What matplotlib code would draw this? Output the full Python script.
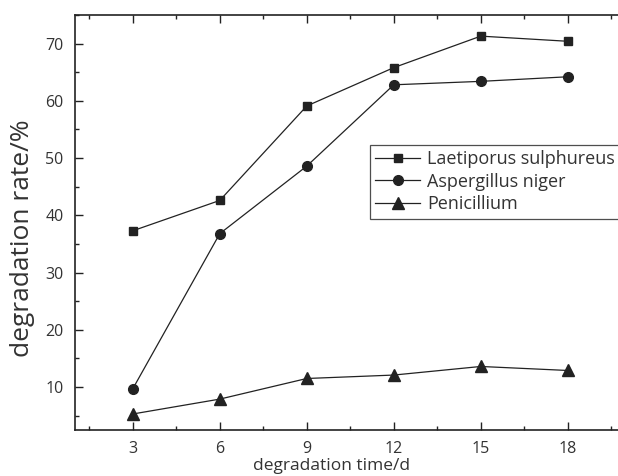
import matplotlib
matplotlib.use("Agg")
import matplotlib.pyplot as plt
from matplotlib.ticker import MultipleLocator

days = [3, 6, 9, 12, 15, 18]
laetiporus = [37.3, 42.6, 59.1, 65.8, 71.3, 70.4]
aspergillus = [9.7, 36.8, 48.6, 62.8, 63.4, 64.2]
penicillium = [5.3, 7.9, 11.5, 12.1, 13.6, 12.9]

plt.rcParams['font.family'] = ['Open Sans', 'DejaVu Sans']

fig = plt.figure(figsize=(6.18, 4.76), dpi=100)
ax = fig.add_axes([0.121, 0.0966, 0.8916, 0.872])

ax.plot(days, laetiporus, color='#222', lw=0.9, marker='s', ms=6, label='Laetiporus sulphureus')
ax.plot(days, aspergillus, color='#222', lw=0.9, marker='o', ms=7, label='Aspergillus niger')
ax.plot(days, penicillium, color='#222', lw=0.9, marker='^', ms=8.5, label='Penicillium')

ax.set_xlim(1, 20)
ax.set_ylim(2.5, 75)
ax.xaxis.set_minor_locator(MultipleLocator(1.5))
ax.yaxis.set_minor_locator(MultipleLocator(5))
ax.set_xticks(days)
ax.set_yticks([10, 20, 30, 40, 50, 60, 70])

ax.tick_params(which='both', direction='in', top=True, right=False, colors='#222',
               labelsize=11.5, labelcolor='#333', width=1)
ax.tick_params(which='major', length=6, pad=8)
ax.tick_params(which='minor', length=3)
ax.spines['right'].set_visible(False)
for s in ax.spines.values():
    s.set_linewidth(1.2)
    s.set_color('#222')

ax.set_xlabel('degradation time/d', fontsize=12.5, color='#333')
ax.xaxis.set_label_coords(0.466, -0.068)
ax.set_ylabel('degradation rate/%', fontsize=19, color='#333')
ax.yaxis.set_label_coords(-0.072, 0.462)

leg = ax.legend(loc='upper left', bbox_to_anchor=(0.535, 0.687), frameon=True, fancybox=False,
                edgecolor='#222', fontsize=13, handlelength=2.5, borderpad=0.3,
                labelspacing=0.25, handletextpad=0.4, borderaxespad=0)
leg.get_frame().set_linewidth(0.9)
for t in leg.get_texts():
    t.set_color('#333')

fig.savefig('out.png', dpi=100)
